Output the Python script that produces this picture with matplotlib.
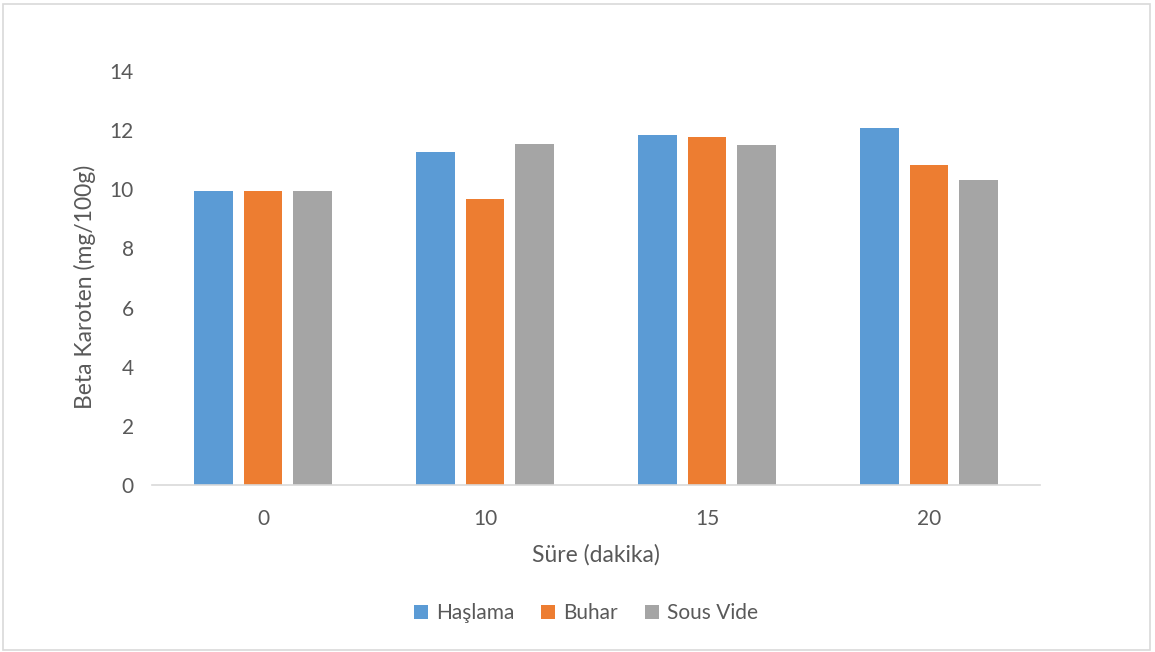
import matplotlib
matplotlib.use("Agg")
import matplotlib.pyplot as plt
import numpy as np
from matplotlib.patches import Rectangle

categories = ["0", "10", "15", "20"]
series_names = ["Haşlama", "Buhar", "Sous Vide"]
haslama = [9.95, 11.25, 11.83, 12.07]
buhar = [9.95, 9.68, 11.76, 10.81]
sous_vide = [9.95, 11.52, 11.51, 10.32]
colors = ["#5B9BD5", "#ED7D31", "#A5A5A5"]
yticks = [0, 2, 4, 6, 8, 10, 12, 14]

plt.rcParams['font.family'] = ['Lato', 'DejaVu Sans']
txt = "#595959"
W, H = 1155, 652

fig = plt.figure(figsize=(11.55, 6.52), dpi=100)
ax = fig.add_axes([152/W, 1 - 485/H, 888/W, (485-71)/H])

x = np.arange(len(categories))
w = 0.172
step = 0.223
for i, (vals, name) in enumerate(zip([haslama, buhar, sous_vide], series_names)):
    ax.bar(x + (i - 1) * step, vals, width=w, color=colors[i], label=name)

ax.set_xlim(-0.5, len(categories) - 0.5)
ax.set_ylim(0, 14)
ax.set_yticks(yticks)
ax.set_xticks(x)
ax.set_xticklabels(categories)
for s in ["top", "right", "left"]:
    ax.spines[s].set_visible(False)
ax.spines["bottom"].set_color("#D9D9D9")
ax.spines["bottom"].set_linewidth(1.2)
ax.tick_params(axis="both", length=0, colors=txt, labelsize=15)
ax.tick_params(axis="y", pad=13)
ax.tick_params(axis="x", pad=17)

fig.text(596/W, 1 - 555/H, "Süre (dakika)", fontsize=16.5, color=txt, ha="center", va="center")
fig.text(85/W, 1 - 287/H, "Beta Karoten (mg/100g)", fontsize=16.5, color=txt, ha="center", va="center",
         rotation=90)

ax.legend(loc="center", bbox_to_anchor=(586/W, 1 - 613/H), bbox_transform=fig.transFigure,
          ncol=3, frameon=False, fontsize=15, handlelength=0.65, handleheight=0.65,
          columnspacing=1.3, handletextpad=0.4, labelcolor=txt)

fig.patches.append(Rectangle((3/W, 2/H), 1147/W, 646/H, transform=fig.transFigure,
                             fill=False, edgecolor="#D9D9D9", linewidth=1.2))

fig.savefig("out.png", dpi=100, facecolor="white")
